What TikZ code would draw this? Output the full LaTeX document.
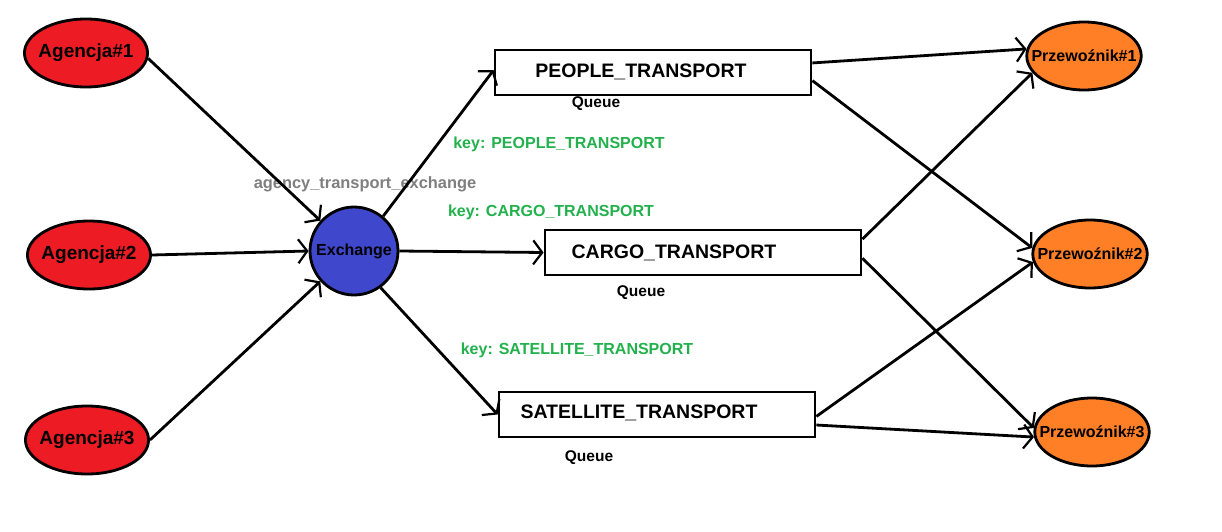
\documentclass[tikz,border=0pt]{standalone}
\usepackage{fontspec}
\setmainfont{Liberation Sans}
\usetikzlibrary{arrows.meta,shapes.geometric,calc}
\definecolor{pred}{HTML}{ED1C24}
\definecolor{porange}{HTML}{FF7F27}
\definecolor{pblue}{HTML}{3F48CC}
\definecolor{pgreen}{HTML}{22B14C}
\definecolor{pgray}{HTML}{7F7F7F}
\tikzset{
  agency/.style={ellipse,draw=black,line width=2.8pt,fill=pred,minimum height=68pt,inner xsep=-4pt,inner ysep=0pt,font=\fontsize{19}{22}\selectfont\bfseries},
  carrier/.style={ellipse,draw=black,line width=2.8pt,fill=porange,minimum height=68pt,inner xsep=-12pt,inner ysep=0pt,font=\fontsize{16}{19}\selectfont\bfseries},
  exch/.style={circle,draw=black,line width=2.8pt,fill=pblue,minimum size=88pt,inner sep=0pt,font=\fontsize{16}{19}\selectfont\bfseries},
  queuebox/.style={rectangle,draw=black,line width=2.8pt,fill=white,minimum width=316pt,minimum height=45pt,inner sep=0pt},
  qname/.style={font=\fontsize{19.5}{22}\selectfont\bfseries,inner sep=0pt},
  qlabel/.style={font=\fontsize{15.5}{18}\selectfont\bfseries,inner sep=0pt},
  keylabel/.style={text=pgreen,font=\fontsize{16}{19}\selectfont\bfseries,inner sep=0pt},
  exlabel/.style={text=pgray,font=\fontsize{16.4}{19}\selectfont\bfseries,inner sep=0pt},
  conn/.style={line width=2.8pt,-{Straight Barb[length=9pt,width=24pt,line width=2.2pt]}},
}
\begin{document}
\begin{tikzpicture}[x=1pt,y=-1pt]
\useasboundingbox[fill=white] (0,0) rectangle (1222,532);
% agencies
\node[agency] (a1) at (86,53) {Agencja\#1};
\node[agency] (a2) at (89,255) {Agencja\#2};
\node[agency] (a3) at (87,440) {Agencja\#3};
% exchange
\node[exch] (ex) at (354,251) {Exchange};
\node[exlabel] (exl) at (365,184) {agency\_transport\_exchange};
% queues
\node[queuebox] (qp) at (653,72.5) {};
\node[queuebox] (qc) at (703,252.5) {};
\node[queuebox] (qs) at (657,414.5) {};
\node[qname] (qpt) at (641,72) {PEOPLE\_TRANSPORT};
\node[qname] (qct) at (674,253) {CARGO\_TRANSPORT};
\node[qname] (qst) at (639,413) {SATELLITE\_TRANSPORT};
\node[qlabel] (qpl) at (596,104) {Queue};
\node[qlabel] (qcl) at (641,293) {Queue};
\node[qlabel] (qsl) at (589,458) {Queue};
\node[keylabel] (kp) at (559,144) {key: PEOPLE\_TRANSPORT};
\node[keylabel] (kc) at (551,212) {key: CARGO\_TRANSPORT};
\node[keylabel] (ks) at (577,350) {key: SATELLITE\_TRANSPORT};
% carriers
\node[carrier] (p1) at (1084,56) {Przewoźnik\#1};
\node[carrier] (p2) at (1090,254) {Przewoźnik\#2};
\node[carrier] (p3) at (1092,432) {Przewoźnik\#3};
% agencies -> exchange
\draw[conn] (a1.-5) -- (ex.138);
\draw[conn] (a2.east) -- (ex.180);
\draw[conn] (a3.east) -- (ex.222);
% exchange -> queues
\draw[conn] (ex.50) -- ($(qp.north west)!0.45!(qp.south west)$);
\draw[conn] (ex.0) -- (qc.west);
\draw[conn] (ex.-54) -- (qs.west);
% queues -> carriers
\draw[conn] ($(qp.north east)!0.3!(qp.south east)$) -- (p1.173);
\draw[conn] ($(qp.north east)!0.67!(qp.south east)$) -- (p2.174);
\draw[conn] ($(qc.north east)!0.22!(qc.south east)$) -- (p1.198);
\draw[conn] ($(qc.north east)!0.62!(qc.south east)$) -- (p3.176);
\draw[conn] ($(qs.north east)!0.54!(qs.south east)$) -- (p2.188);
\draw[conn] ($(qs.north east)!0.72!(qs.south east)$) -- (p3.185);
\end{tikzpicture}
\end{document}
